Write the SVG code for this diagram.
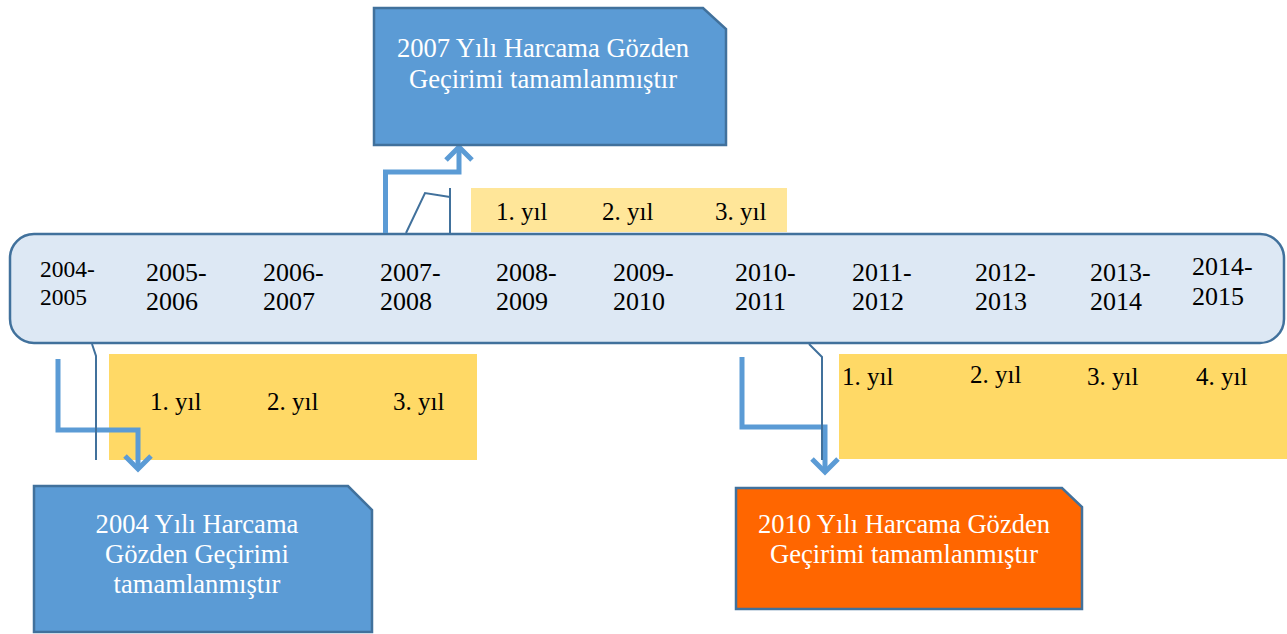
<svg xmlns="http://www.w3.org/2000/svg" width="1287" height="634" viewBox="0 0 1287 634">
<style>
.yr{font-size:26px;fill:#000;}
.yl{font-size:25px;fill:#000;}
.bt{font-size:26.6px;fill:#fff;text-anchor:middle;}
.box{stroke:#41719c;stroke-width:2.5;}
.arr{fill:none;stroke:#5b9bd5;stroke-width:5;stroke-linejoin:miter;}
.cl{fill:none;stroke:#41719c;stroke-width:2;}
</style>
<rect width="1287" height="634" fill="#fff"/>
<g font-family="Liberation Serif, DejaVu Serif, serif">
<g id="timeline">
<rect x="10" y="234" width="1274" height="109" rx="24" ry="24" fill="#dde8f4" stroke="#41719c" stroke-width="2.5"/>
<text class="yr" style="font-size:23.5px"><tspan x="40" y="277">2004-</tspan><tspan x="40" y="305">2005</tspan></text>
<text class="yr"><tspan x="146" y="281">2005-</tspan><tspan x="146" y="310">2006</tspan></text>
<text class="yr"><tspan x="263" y="281">2006-</tspan><tspan x="263" y="310">2007</tspan></text>
<text class="yr"><tspan x="380" y="281">2007-</tspan><tspan x="380" y="310">2008</tspan></text>
<text class="yr"><tspan x="496" y="281">2008-</tspan><tspan x="496" y="310">2009</tspan></text>
<text class="yr"><tspan x="613" y="281">2009-</tspan><tspan x="613" y="310">2010</tspan></text>
<text class="yr"><tspan x="735" y="281">2010-</tspan><tspan x="735" y="310">2011</tspan></text>
<text class="yr"><tspan x="852" y="281">2011-</tspan><tspan x="852" y="310">2012</tspan></text>
<text class="yr"><tspan x="975" y="281">2012-</tspan><tspan x="975" y="310">2013</tspan></text>
<text class="yr"><tspan x="1090" y="281">2013-</tspan><tspan x="1090" y="310">2014</tspan></text>
<text class="yr"><tspan x="1192" y="275">2014-</tspan><tspan x="1192" y="305">2015</tspan></text>
</g>
<g id="period-2007">
<rect x="471" y="188" width="316" height="44" fill="#ffe699"/>
<text class="yl" x="496" y="220">1. yıl</text>
<text class="yl" x="602" y="220">2. yıl</text>
<text class="yl" x="715" y="220">3. yıl</text>
</g>
<g id="period-2004">
<rect x="109" y="354" width="368" height="106" fill="#ffd966"/>
<text class="yl" x="150" y="410">1. yıl</text>
<text class="yl" x="267" y="410">2. yıl</text>
<text class="yl" x="393" y="410">3. yıl</text>
</g>
<g id="period-2010">
<rect x="839" y="354" width="448" height="105" fill="#ffd966"/>
<text class="yl" x="842" y="385">1. yıl</text>
<text class="yl" x="970" y="383">2. yıl</text>
<text class="yl" x="1087" y="385">3. yıl</text>
<text class="yl" x="1196" y="385">4. yıl</text>
</g>
<g id="connectors">
<polyline class="arr" points="385.5,233 385.5,172 459,172 459,149"/>
<polyline class="arr" points="446,160 459,147 472,160"/>
<polyline class="arr" points="58,359 58,430 138,430 138,466"/>
<polyline class="arr" points="125,456 138,469 151,456"/>
<polyline class="arr" points="742,357 742,427 825,427 825,470"/>
<polyline class="arr" points="812,459 825,472 838,459"/>
<polyline class="cl" points="406,233 425,193 450,197"/>
<line class="cl" x1="450" y1="188" x2="450" y2="233"/>
<polyline class="cl" points="92,344 96,356 96,460"/>
<polyline class="cl" points="809,344 822,357 822,460"/>
</g>
<g id="review-2007">
<polygon class="box" points="374,8 703,8 726,29 726,145 374,145" fill="#5b9bd5"/>
<text class="bt"><tspan x="543" y="57">2007 Yılı Harcama Gözden</tspan><tspan x="543" y="88">Geçirimi tamamlanmıştır</tspan></text>
</g>
<g id="review-2004">
<polygon class="box" points="34,486 348,486 372,510 372,632 34,632" fill="#5b9bd5"/>
<text class="bt"><tspan x="197" y="533">2004 Yılı Harcama</tspan><tspan x="197" y="563">Gözden Geçirimi</tspan><tspan x="197" y="593">tamamlanmıştır</tspan></text>
</g>
<g id="review-2010">
<polygon class="box" points="736,488 1062,488 1082,507 1082,609 736,609" fill="#ff6600"/>
<text class="bt"><tspan x="904" y="533">2010 Yılı Harcama Gözden</tspan><tspan x="904" y="563">Geçirimi tamamlanmıştır</tspan></text>
</g>
</g>
</svg>
